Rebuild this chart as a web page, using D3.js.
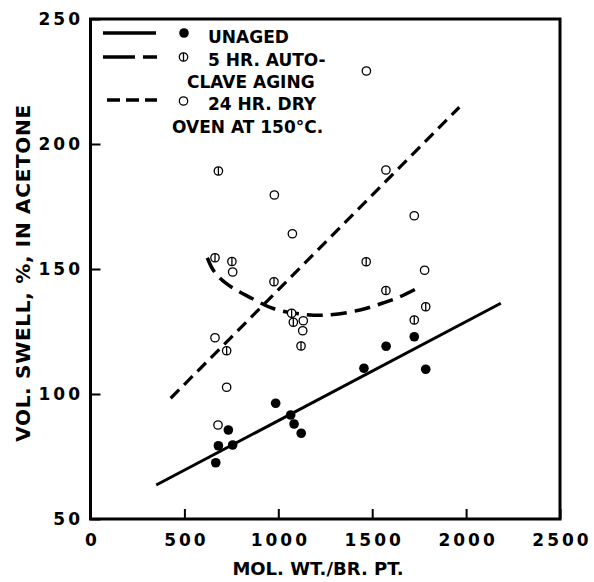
<!DOCTYPE html>
<html lang="en">
<head>
	<meta charset="UTF-8" />
	<title>Vol. swell vs mol. wt./br. pt.</title>
	<script type="text/javascript" src="https://cdn.jsdelivr.net/npm/d3@7/dist/d3.min.js"></script>
	<style>
		body { margin: 0; background: #fff; }
		text { font-family: "DejaVu Sans", sans-serif; font-weight: bold; fill: #000; }
	</style>
</head>
<body>
	<svg id="vis" width="594" height="582"></svg>
	<script type="text/javascript">
		// tick labels
		var xTicks = [0, 500, 1000, 1500, 2000, 2500];
		var yTicks = [50, 100, 150, 200, 250];

		// [mol. wt./br. pt., vol. swell %]
		var unaged = [[667, 72.5], [681, 79.3], [734, 85.6], [757, 79.6], [986, 96.3], [1066, 91.6],
			[1084, 88], [1122, 84.3], [1456, 110.3], [1574, 119.1], [1724, 122.9], [1785, 109.9]];
		var autoclave = [[663, 154.5], [681, 189.2], [725, 117.3], [753, 153], [977, 144.9], [1071, 132.3],
			[1080, 128.7], [1121, 119.2], [1468, 152.9], [1573, 141.4], [1724, 129.6], [1785, 134.9]];
		var dryOven = [[663, 122.5], [679, 87.6], [725, 102.7], [757, 148.8], [979, 179.6], [1075, 164.1],
			[1130, 125.3], [1133, 129.3], [1469, 229.2], [1573, 189.6], [1724, 171.3], [1779, 149.5]];

		// fitted lines / curve
		var unagedFit = [[350, 63.6], [2185, 136.3]];
		var dryFit = [[427, 98.3], [1964, 214.7]];
		var autoclaveFit = [[622, 154.5], [650, 150], [690, 146.3], [760, 142.3], [858, 138.3], [973, 134.2],
			[1116, 132], [1266, 131.6], [1435, 133.6], [1557, 136.4], [1648, 138.9], [1754, 142.9]];

		var svg = d3.select("#vis");

		// Echelles
		var scaleX = d3.scaleLinear().domain([0, 2500]).range([90.5, 560]);
		var scaleY = d3.scaleLinear().domain([50, 250]).range([519, 19]);

		// Axes (ticks vers l'intérieur)
		var gx = svg.append("g")
			.attr("transform", "translate(0," + scaleY(50) + ")")
			.call(d3.axisBottom(scaleX).tickValues(xTicks).tickFormat(d3.format("d")).tickSize(-10).tickPadding(15));
		var gy = svg.append("g")
			.attr("transform", "translate(" + scaleX(0) + ",0)")
			.call(d3.axisLeft(scaleY).tickValues(yTicks).tickFormat(d3.format("d")).tickSize(-10).tickPadding(7.5));

		[gx, gy].forEach(function(g) {
			g.select(".domain").remove();
			g.selectAll("line").attr("stroke", "#000").attr("stroke-width", 2);
			g.selectAll("text")
				.attr("font-family", "DejaVu Sans")
				.attr("font-weight", "bold")
				.attr("font-size", 17)
				.attr("letter-spacing", 3);
		});
		gx.selectAll("text").attr("dx", 1.5);

		// Cadre
		svg.append("rect")
			.attr("x", scaleX(0))
			.attr("y", scaleY(250))
			.attr("width", scaleX(2500) - scaleX(0))
			.attr("height", scaleY(50) - scaleY(250))
			.attr("fill", "none")
			.attr("stroke", "#000")
			.attr("stroke-width", 3);

		// Titres
		svg.append("text")
			.attr("x", 318)
			.attr("y", 575)
			.attr("text-anchor", "middle")
			.attr("font-size", 18)
			.text("MOL. WT./BR. PT.");
		svg.append("text")
			.attr("transform", "translate(30,273) rotate(-90)")
			.attr("text-anchor", "middle")
			.attr("font-size", 20)
			.attr("letter-spacing", 0.7)
			.text("VOL. SWELL, %, IN ACETONE");

		// Lignes
		var line = d3.line()
			.x(function(d) { return scaleX(d[0]); })
			.y(function(d) { return scaleY(d[1]); });

		svg.append("path")
			.attr("d", line(unagedFit))
			.attr("fill", "none")
			.attr("stroke", "#000")
			.attr("stroke-width", 3);
		svg.append("path")
			.attr("d", line(dryFit))
			.attr("fill", "none")
			.attr("stroke", "#000")
			.attr("stroke-width", 3.2)
			.attr("stroke-dasharray", "12,7");
		svg.append("path")
			.attr("d", line.curve(d3.curveCatmullRom)(autoclaveFit))
			.attr("fill", "none")
			.attr("stroke", "#000")
			.attr("stroke-width", 3.5)
			.attr("stroke-dasharray", "16,8");

		// Points
		function drawPoints(data, kind) {
			var g = svg.append("g");
			g.selectAll("circle").data(data).enter().append("circle")
				.attr("cx", function(d) { return scaleX(d[0]); })
				.attr("cy", function(d) { return scaleY(d[1]); })
				.attr("r", kind == "filled" ? 4.8 : 4.2)
				.attr("fill", kind == "filled" ? "#000" : "#fff")
				.attr("stroke", "#000")
				.attr("stroke-width", kind == "filled" ? 0 : 1.3);
			if (kind == "half") {
				g.selectAll("line").data(data).enter().append("line")
					.attr("x1", function(d) { return scaleX(d[0]); })
					.attr("x2", function(d) { return scaleX(d[0]); })
					.attr("y1", function(d) { return scaleY(d[1]) - 4.2; })
					.attr("y2", function(d) { return scaleY(d[1]) + 4.2; })
					.attr("stroke", "#000")
					.attr("stroke-width", 1.3);
			}
		}
		drawPoints(unaged, "filled");
		drawPoints(autoclave, "half");
		drawPoints(dryOven, "open");

		// Légende
		var leg = svg.append("g");
		leg.append("line").attr("x1", 103).attr("x2", 156).attr("y1", 33).attr("y2", 33)
			.attr("stroke", "#000").attr("stroke-width", 3.5);
		leg.append("line").attr("x1", 103).attr("x2", 157).attr("y1", 57).attr("y2", 57)
			.attr("stroke", "#000").attr("stroke-width", 3.5).attr("stroke-dasharray", "32,8,14");
		leg.append("line").attr("x1", 107).attr("x2", 157).attr("y1", 100).attr("y2", 100)
			.attr("stroke", "#000").attr("stroke-width", 3.5).attr("stroke-dasharray", "13,6");

		leg.append("circle").attr("cx", 184).attr("cy", 33).attr("r", 4.8).attr("fill", "#000");
		leg.append("circle").attr("cx", 183.5).attr("cy", 57).attr("r", 4.2)
			.attr("fill", "#fff").attr("stroke", "#000").attr("stroke-width", 1.3);
		leg.append("line").attr("x1", 183.5).attr("x2", 183.5).attr("y1", 52.8).attr("y2", 61.2)
			.attr("stroke", "#000").attr("stroke-width", 1.3);
		leg.append("circle").attr("cx", 183.5).attr("cy", 101).attr("r", 4.2)
			.attr("fill", "#fff").attr("stroke", "#000").attr("stroke-width", 1.3);

		var legText = [["UNAGED", 208, 43], ["5 HR. AUTO-", 208, 66], ["CLAVE AGING", 187, 88],
			["24 HR. DRY", 208, 110], ["OVEN AT 150°C.", 172, 133]];
		leg.selectAll("text.lt").data(legText).enter().append("text")
			.attr("class", "lt")
			.attr("x", function(d) { return d[1]; })
			.attr("y", function(d) { return d[2]; })
			.attr("font-size", 17)
			.text(function(d) { return d[0]; });
	</script>
</body>
</html>
